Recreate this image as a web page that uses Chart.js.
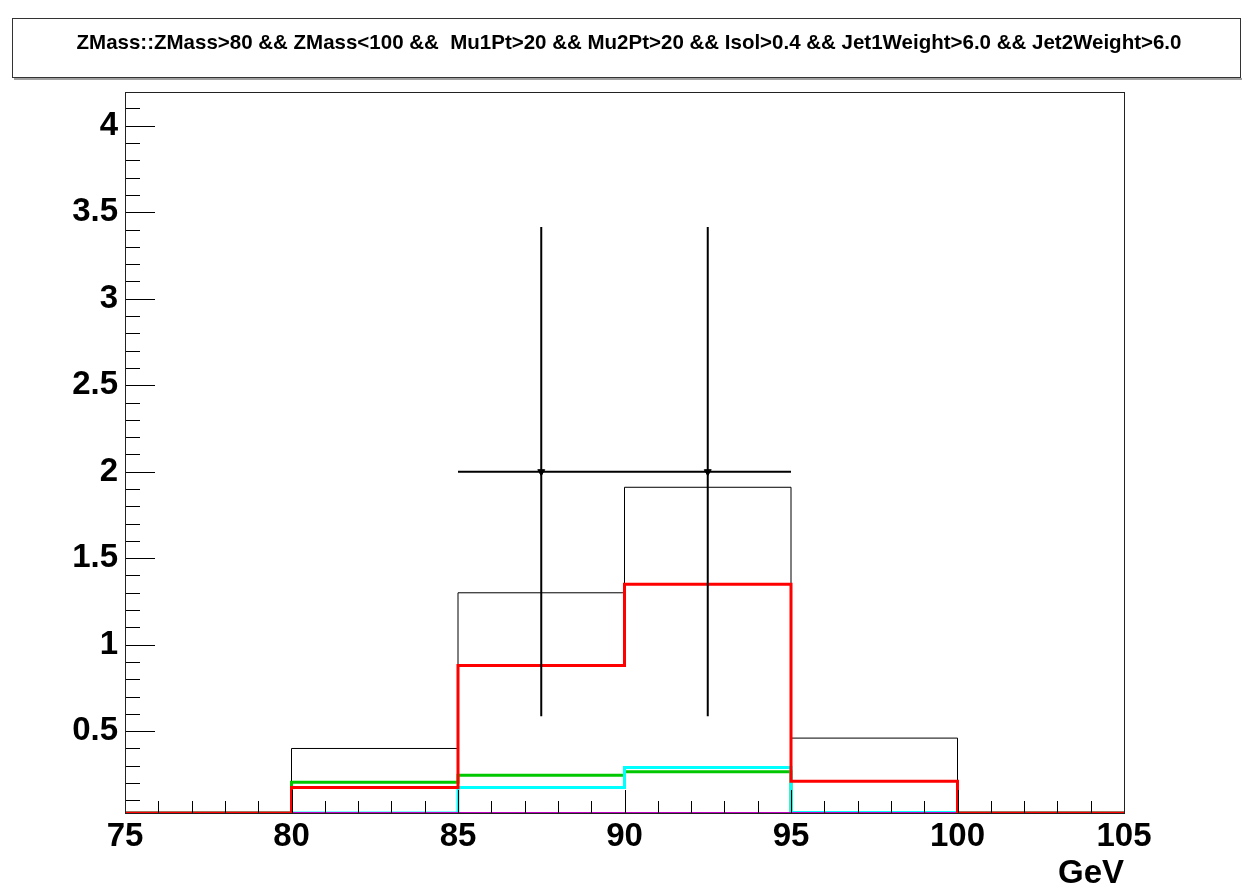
<!DOCTYPE html>
<html>
<head>
<meta charset="utf-8">
<script src="https://cdn.jsdelivr.net/npm/chart.js@4/dist/chart.umd.min.js"></script>
<style>
  html, body { margin: 0; padding: 0; background: #ffffff; }
  canvas { display: block; }
</style>
</head>
<body>
<canvas id="c" width="1242" height="888"></canvas>
<script>
// Selection and axis text
const titleText = 'ZMass::ZMass>80 && ZMass<100 &&  Mu1Pt>20 && Mu2Pt>20 && Isol>0.4 && Jet1Weight>6.0 && Jet2Weight>6.0';
const xAxisTitle = 'GeV';

// Histogram binning (GeV) and bin contents
const binEdges     = [75, 80, 85, 90, 95, 100, 105];
const histBlack    = [0, 0.40, 1.30, 1.91, 0.46, 0];
const histRed      = [0, 0.175, 0.88, 1.35, 0.21, 0];
const histGreen    = [0, 0.205, 0.245, 0.265, 0, 0];
const histCyan     = [0, 0, 0.175, 0.29, 0.03, 0];
const histMagenta  = [0, 0, 0, 0, 0, 0];

// Data points with errors
const pointX    = [87.5, 92.5];
const pointY    = [2, 2];
const pointErrX = [2.5, 2.5];
const pointErrY = [1.414, 1.414];

// Axis ticks
const xTickValues = [75, 80, 85, 90, 95, 100, 105];
const xTickLabels = ['75', '80', '85', '90', '95', '100', '105'];
const yTickValues = [0.5, 1, 1.5, 2, 2.5, 3, 3.5, 4];
const yTickLabels = ['0.5', '1', '1.5', '2', '2.5', '3', '3.5', '4'];

const Y_MIN = 0.027;
const Y_MAX = 4.195;
const FONT = '"Liberation Sans", Arial, Helvetica, sans-serif';

// Bin i spans binEdges[i]..binEdges[i+1]; contents below the axis minimum sit on the frame bottom
function histPoints(vals) {
  const pts = vals.map((v, i) => ({ x: binEdges[i], y: Math.max(v, Y_MIN) }));
  pts.push({ x: binEdges[binEdges.length - 1], y: Math.max(vals[vals.length - 1], Y_MIN) });
  return pts;
}

function histDataset(vals, color, width) {
  return {
    type: 'line',
    data: histPoints(vals),
    stepped: 'before',
    borderColor: color,
    borderWidth: width,
    pointRadius: 0,
    fill: false,
    tension: 0
  };
}

// Title pave across the canvas, with its drop shadow and the selection text
const titlePave = {
  id: 'titlePave',
  beforeDraw(chart) {
    const ctx = chart.ctx;
    ctx.save();
    ctx.fillStyle = '#ffffff';
    ctx.fillRect(0, 0, chart.width, chart.height);
    ctx.fillStyle = '#a0a0a0';
    ctx.fillRect(14, 78, 1228, 2);
    ctx.strokeStyle = '#333333';
    ctx.lineWidth = 1;
    ctx.strokeRect(12.5, 18.5, 1228, 59);
    ctx.fillStyle = '#000000';
    ctx.font = 'bold 20.5px ' + FONT;
    ctx.textAlign = 'center';
    ctx.textBaseline = 'middle';
    ctx.fillText(titleText, 629, 43);
    ctx.restore();
  }
};

// Frame and inward tick marks
const frameTicks = {
  id: 'frameTicks',
  afterDatasetsDraw(chart) {
    const { ctx, chartArea: a, scales: { x, y } } = chart;
    ctx.save();
    ctx.strokeStyle = '#000000';
    ctx.lineWidth = 1;
    ctx.beginPath();
    for (let k = 76; k < 105; k++) {
      const px = Math.round(x.getPixelForValue(k)) + 0.5;
      const len = (k % 5 === 0) ? 23 : 12;
      ctx.moveTo(px, a.bottom);
      ctx.lineTo(px, a.bottom - len);
    }
    for (let k = 1; k <= 41; k++) {
      const py = Math.round(y.getPixelForValue(k / 10)) + 0.5;
      const len = (k % 5 === 0) ? 30 : 15;
      ctx.moveTo(a.left, py);
      ctx.lineTo(a.left + len, py);
    }
    ctx.stroke();
    ctx.strokeStyle = '#222222';
    ctx.strokeRect(Math.round(a.left) + 0.5, Math.round(a.top) + 0.5,
                   Math.round(a.right - a.left), Math.round(a.bottom - a.top));
    ctx.restore();
  }
};

// Error bars on the data points
const errorBars = {
  id: 'errorBars',
  afterDatasetsDraw(chart) {
    const { ctx, scales: { x, y } } = chart;
    ctx.save();
    ctx.strokeStyle = '#000000';
    ctx.lineWidth = 2;
    ctx.beginPath();
    pointX.forEach((xv, i) => {
      const yv = pointY[i];
      const px = x.getPixelForValue(xv);
      const py = y.getPixelForValue(yv);
      ctx.moveTo(x.getPixelForValue(xv - pointErrX[i]), py);
      ctx.lineTo(x.getPixelForValue(xv + pointErrX[i]), py);
      ctx.moveTo(px, y.getPixelForValue(yv + pointErrY[i]));
      ctx.lineTo(px, y.getPixelForValue(yv - pointErrY[i]));
    });
    ctx.stroke();
    ctx.restore();
  }
};

new Chart(document.getElementById('c'), {
  type: 'line',
  data: {
    datasets: [
      {
        type: 'line',
        data: pointX.map((xv, i) => ({ x: xv, y: pointY[i] })),
        showLine: false,
        pointStyle: 'triangle',
        rotation: 180,
        pointRadius: 4,
        pointBackgroundColor: '#000000',
        pointBorderColor: '#000000',
        pointBorderWidth: 1
      },
      histDataset(histRed, '#ff0000', 3),
      histDataset(histMagenta, '#c000c0', 2),
      histDataset(histCyan, '#00ffff', 3),
      histDataset(histGreen, '#00c800', 3),
      histDataset(histBlack, '#000000', 1)
    ]
  },
  options: {
    responsive: false,
    animation: false,
    devicePixelRatio: 1,
    layout: { padding: { left: 0, right: 118, top: 92, bottom: 0 } },
    plugins: {
      legend: { display: false },
      tooltip: { enabled: false },
      title: { display: false }
    },
    scales: {
      x: {
        type: 'linear',
        min: 75,
        max: 105,
        afterBuildTicks: s => { s.ticks = xTickValues.map(v => ({ value: v })); },
        afterFit: s => { s.height = 75; },
        grid: { display: false, drawTicks: false },
        border: { display: false },
        ticks: {
          color: '#000000',
          font: { family: FONT, size: 33, weight: 'bold' },
          padding: 4,
          maxRotation: 0,
          autoSkip: false,
          callback: (v, i) => xTickLabels[i]
        },
        title: {
          display: true,
          text: xAxisTitle,
          align: 'end',
          color: '#000000',
          font: { family: FONT, size: 33, weight: 'bold', lineHeight: 1 },
          padding: { top: 0, bottom: -2 }
        }
      },
      y: {
        type: 'linear',
        min: Y_MIN,
        max: Y_MAX,
        afterBuildTicks: s => { s.ticks = yTickValues.map(v => ({ value: v })); },
        afterFit: s => { s.width = 125; },
        grid: { display: false, drawTicks: false },
        border: { display: false },
        ticks: {
          color: '#000000',
          font: { family: FONT, size: 33, weight: 'bold' },
          padding: 7,
          autoSkip: false,
          callback: (v, i) => yTickLabels[i]
        }
      }
    }
  },
  plugins: [titlePave, frameTicks, errorBars]
});
</script>
</body>
</html>
